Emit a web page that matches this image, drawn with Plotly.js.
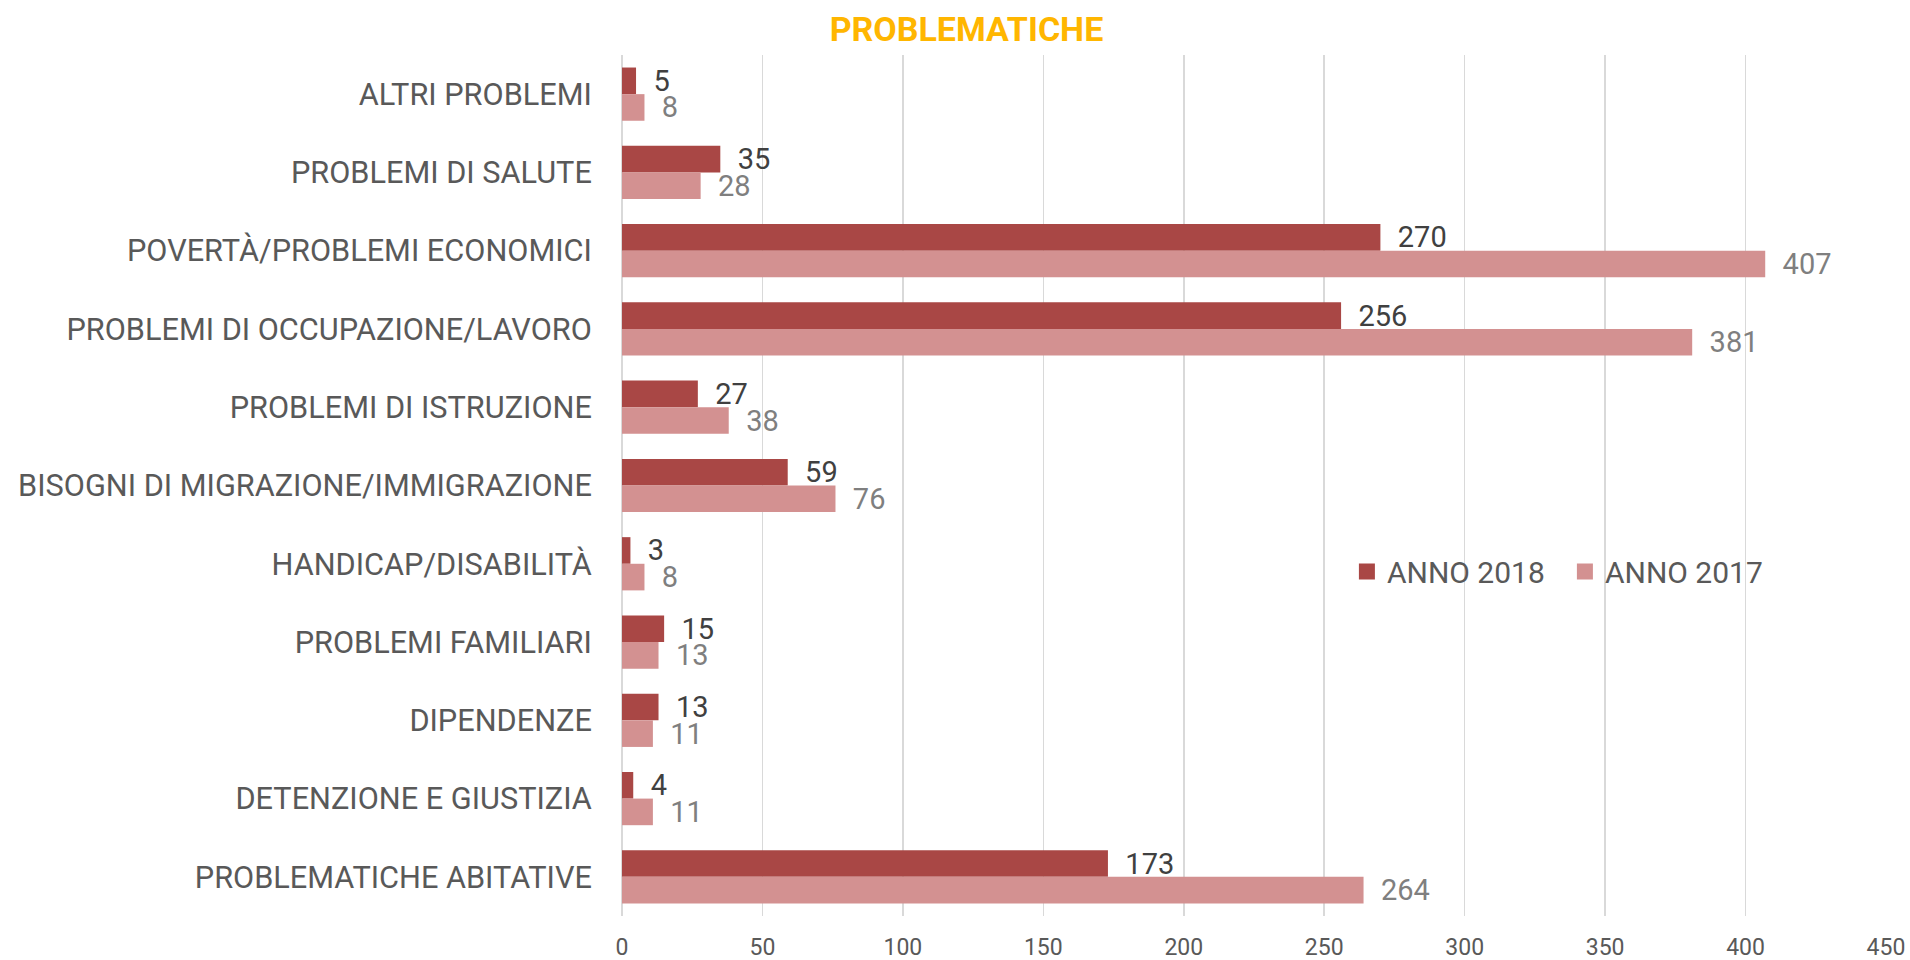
<!DOCTYPE html>
<html>
<head>
<meta charset="utf-8">
<script src="https://cdn.plot.ly/plotly-3.0.1.min.js"></script>
<style>html,body{margin:0;padding:0;background:#fff;}#chart{width:1910px;height:960px;}</style>
</head>
<body>
<div id="chart"></div>
<script>
const categories = [
  "ALTRI PROBLEMI",
  "PROBLEMI DI SALUTE",
  "POVERTÀ/PROBLEMI ECONOMICI",
  "PROBLEMI DI OCCUPAZIONE/LAVORO",
  "PROBLEMI DI ISTRUZIONE",
  "BISOGNI DI MIGRAZIONE/IMMIGRAZIONE",
  "HANDICAP/DISABILITÀ",
  "PROBLEMI FAMILIARI",
  "DIPENDENZE",
  "DETENZIONE E GIUSTIZIA",
  "PROBLEMATICHE ABITATIVE"
];
const anno2018 = [5, 35, 270, 256, 27, 59, 3, 15, 13, 4, 173];
const anno2017 = [8, 28, 407, 381, 38, 76, 8, 13, 11, 11, 264];
const xTicks = [0, 50, 100, 150, 200, 250, 300, 350, 400, 450];
const seriesNames = ["ANNO 2018", "ANNO 2017"];
const seriesColors = ["#A94745", "#D39191"];

const FONT = "Roboto, 'Noto Sans', sans-serif";
const pad = "\u00a0\u00a0";

const traces = [
  {
    type: "bar", orientation: "h", name: seriesNames[0],
    y: categories, x: anno2018,
    marker: {color: seriesColors[0]},
    texttemplate: pad + "%{x}",
    textposition: "outside",
    constraintext: "none",
    cliponaxis: false,
    textfont: {family: FONT, size: 29, color: "#404040"},
    showlegend: false
  },
  {
    type: "bar", orientation: "h", name: seriesNames[1],
    y: categories, x: anno2017,
    marker: {color: seriesColors[1]},
    texttemplate: pad + "%{x}",
    textposition: "outside",
    constraintext: "none",
    cliponaxis: false,
    textfont: {family: FONT, size: 29, color: "#7F7F7F"},
    showlegend: false
  },
  {
    type: "scatter", mode: "markers", name: seriesNames[0],
    x: [null], y: [null],
    marker: {symbol: "square", size: 16, color: seriesColors[0]},
    showlegend: true
  },
  {
    type: "scatter", mode: "markers", name: seriesNames[1],
    x: [null], y: [null],
    marker: {symbol: "square", size: 16, color: seriesColors[1]},
    showlegend: true
  }
];

const layout = {
  width: 1910, height: 960,
  paper_bgcolor: "#fff", plot_bgcolor: "#fff",
  margin: {l: 622, r: 24, t: 55, b: 44},
  barmode: "group",
  bargap: 0.32,
  bargroupgap: 0,
  title: {
    text: "<b>PROBLEMATICHE</b>",
    font: {family: FONT, size: 34, color: "#FFB600"},
    x: 0.506, xref: "container", xanchor: "center",
    y: 0.97, yref: "container", yanchor: "middle"
  },
  xaxis: {
    range: [0, 450],
    tickvals: xTicks,
    ticktext: xTicks.map(String),
    showgrid: true, gridcolor: "#D9D9D9", gridwidth: 1.5,
    zeroline: true, zerolinecolor: "#D9D9D9", zerolinewidth: 1.5,
    showline: false,
    ticks: "outside", ticklen: 10, tickcolor: "rgba(0,0,0,0)",
    tickfont: {family: FONT, size: 23, color: "#595959"},
    fixedrange: true
  },
  yaxis: {
    type: "category",
    autorange: "reversed",
    showgrid: false, zeroline: false, showline: false,
    ticks: "outside", ticklen: 23, tickcolor: "rgba(0,0,0,0)",
    tickfont: {family: FONT, size: 30.7, color: "#595959"},
    fixedrange: true
  },
  legend: {
    orientation: "h",
    x: 0.5735, xanchor: "left",
    y: 0.40, yanchor: "middle",
    font: {family: FONT, size: 30, color: "#595959"},
    bgcolor: "rgba(255,255,255,0)",
    traceorder: "normal",
    itemsizing: "trace",
    itemwidth: 30,
    entrywidth: 173,
    entrywidthmode: "pixels"
  },
  showlegend: true
};

Plotly.newPlot("chart", traces, layout, {displayModeBar: false, staticPlot: true});
</script>
</body>
</html>
